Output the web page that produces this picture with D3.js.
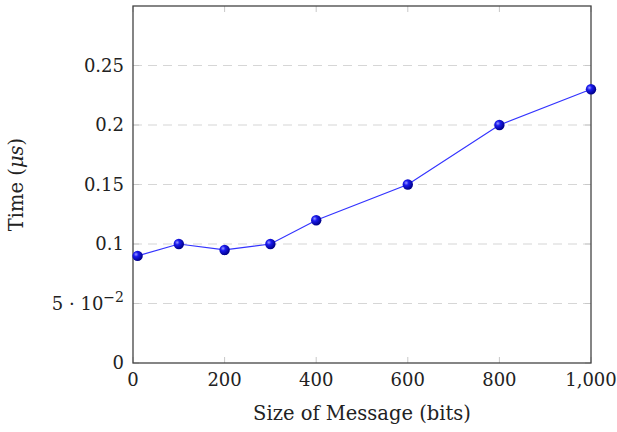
<!DOCTYPE html>
<html>
<head>
<meta charset="utf-8">
<script src="https://cdn.jsdelivr.net/npm/d3@7"></script>
<style>
  body { margin: 0; background: #fff; }
  text { font-family: "DejaVu Serif", "Liberation Serif", serif; fill: #222; }
</style>
</head>
<body>
<div id="chart-area"></div>
<script>
let sizes = [10, 100, 200, 300, 400, 600, 800, 1000]
let times = [0.09, 0.1, 0.095, 0.1, 0.12, 0.15, 0.2, 0.23]
let xTicks = [0, 200, 400, 600, 800, 1000]
let xTickLabels = ["0", "200", "400", "600", "800", "1,000"]
let yTicks = [0, 0.05, 0.1, 0.15, 0.2, 0.25]
let yTickLabels = ["0", "5e-2", "0.1", "0.15", "0.2", "0.25"]

let margin = { top: 6, right: 26, bottom: 69, left: 133 }
let width = 617 - margin.left - margin.right
let height = 432 - margin.top - margin.bottom

let svg = d3.select("#chart-area").append("svg")
  .attr("width", 617)
  .attr("height", 432)

let defs = svg.append("defs")
let grad = defs.append("radialGradient")
  .attr("id", "ball")
  .attr("cx", "35%").attr("cy", "35%").attr("r", "65%")
grad.append("stop").attr("offset", "0%").attr("stop-color", "#9a9aff")
grad.append("stop").attr("offset", "35%").attr("stop-color", "#1a1aee")
grad.append("stop").attr("offset", "100%").attr("stop-color", "#00008a")

let g = svg.append("g")
  .attr("transform", "translate(" + margin.left + "," + margin.top + ")")

let x = d3.scaleLinear().domain([0, 1000]).range([0, width])
let y = d3.scaleLinear().domain([0, 0.3]).range([height, 0])

// dashed grid
g.selectAll(".grid")
  .data(yTicks.slice(1))
  .enter().append("line")
    .attr("x1", 0).attr("x2", width)
    .attr("y1", d => y(d)).attr("y2", d => y(d))
    .attr("stroke", "#d6d6d6")
    .attr("stroke-width", 1.2)
    .attr("stroke-dasharray", "9,6")

// small grey ticks inside the box
g.selectAll(".xtick")
  .data(xTicks)
  .enter().append("line")
    .attr("x1", d => x(d)).attr("x2", d => x(d))
    .attr("y1", height).attr("y2", height - 6)
    .attr("stroke", "#c8c8c8")
g.selectAll(".xtick2")
  .data(xTicks)
  .enter().append("line")
    .attr("x1", d => x(d)).attr("x2", d => x(d))
    .attr("y1", 0).attr("y2", 6)
    .attr("stroke", "#c8c8c8")
g.selectAll(".ytick")
  .data(yTicks)
  .enter().append("line")
    .attr("x1", 0).attr("x2", 6)
    .attr("y1", d => y(d)).attr("y2", d => y(d))
    .attr("stroke", "#c8c8c8")
g.selectAll(".ytick2")
  .data(yTicks)
  .enter().append("line")
    .attr("x1", width - 6).attr("x2", width)
    .attr("y1", d => y(d)).attr("y2", d => y(d))
    .attr("stroke", "#c8c8c8")

// axis box
g.append("rect")
  .attr("x", 0).attr("y", 0)
  .attr("width", width).attr("height", height)
  .attr("fill", "none")
  .attr("stroke", "#444")
  .attr("stroke-width", 1.3)

// x tick labels
g.selectAll(".xlab")
  .data(xTicks)
  .enter().append("text")
    .attr("x", d => x(d))
    .attr("y", height + 23)
    .attr("text-anchor", "middle")
    .style("font-size", "18px")
    .text((d, i) => xTickLabels[i])

// y tick labels
yTicks.forEach((d, i) => {
  let t = g.append("text")
    .attr("x", -9)
    .attr("y", y(d) + 6)
    .attr("text-anchor", "end")
    .style("font-size", "18px")
  if (yTickLabels[i] == "5e-2") {
    t.append("tspan").text("5 \u00B7 10")
    t.append("tspan").attr("dy", -8).style("font-size", "14px").text("\u22122")
  } else {
    t.text(yTickLabels[i])
  }
})

// line and markers
let line = d3.line()
  .x((d, i) => x(sizes[i]))
  .y(d => y(d))

g.append("path")
  .datum(times)
  .attr("d", line)
  .attr("fill", "none")
  .attr("stroke", "#3333ff")
  .attr("stroke-width", 1.2)

g.selectAll("circle")
  .data(times)
  .enter().append("circle")
    .attr("cx", (d, i) => x(sizes[i]))
    .attr("cy", d => y(d))
    .attr("r", 5.2)
    .attr("fill", "url(#ball)")

// axis labels
g.append("text")
  .attr("x", width / 2)
  .attr("y", height + 57)
  .attr("text-anchor", "middle")
  .style("font-size", "19.5px")
  .text("Size of Message (bits)")

let yl = g.append("text")
  .attr("transform", "rotate(-90)")
  .attr("x", -(height / 2) + 0)
  .attr("y", -110)
  .attr("text-anchor", "middle")
  .style("font-size", "19.5px")
yl.append("tspan").text("Time (")
yl.append("tspan").style("font-style", "italic").text("\u03BCs")
yl.append("tspan").text(")")
</script>
</body>
</html>
